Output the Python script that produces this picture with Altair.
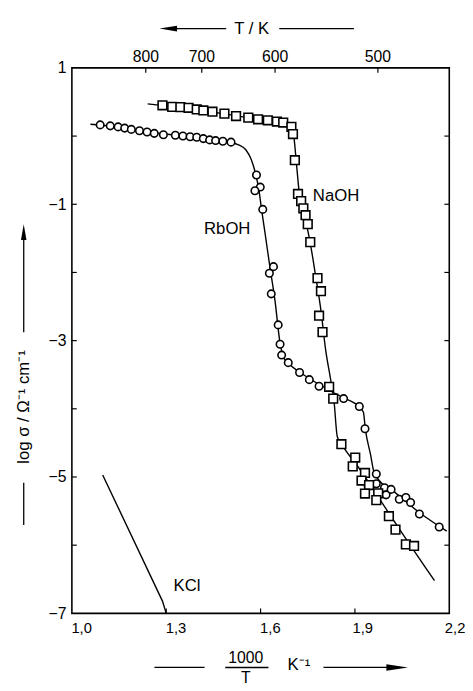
import altair as alt
import pandas as pd

# ---------------- data ----------------
rb_x = [1.090, 1.122, 1.147, 1.168, 1.189, 1.215, 1.239, 1.262, 1.291, 1.329, 1.353, 1.376,
        1.397, 1.418, 1.438, 1.457, 1.480, 1.506, 1.587, 1.599, 1.582, 1.607, 1.641, 1.628,
        1.634, 1.656, 1.662, 1.667, 1.688, 1.724, 1.755, 1.786, 1.864, 1.914, 1.932, 1.968,
        1.942, 1.968, 1.994, 2.015, 1.999, 2.041, 2.062, 2.077, 2.105, 2.168]
rb_y = [0.164, 0.150, 0.135, 0.117, 0.098, 0.078, 0.059, 0.040, 0.020, 0.012, 0.001, -0.009,
        -0.017, -0.037, -0.056, -0.066, -0.075, -0.089, -0.571, -0.748, -0.801, -1.075, -1.915, -2.012,
        -2.314, -2.769, -3.053, -3.212, -3.323, -3.467, -3.572, -3.669, -3.850, -3.965, -4.293, -4.955,
        -5.133, -5.099, -5.157, -5.182, -5.262, -5.326, -5.301, -5.373, -5.542, -5.733]

na_x = [1.288, 1.319, 1.345, 1.371, 1.397, 1.418, 1.447, 1.485, 1.522, 1.561, 1.592, 1.623,
        1.652, 1.672, 1.698, 1.703, 1.709, 1.719, 1.729, 1.736, 1.743, 1.750, 1.758, 1.781,
        1.792, 1.786, 1.797, 1.818, 1.831, 1.857, 1.901, 1.893, 1.932, 1.921, 1.945, 1.932,
        1.974, 1.968, 2.008, 2.029, 2.062, 2.088]
na_y = [0.452, 0.429, 0.424, 0.415, 0.390, 0.376, 0.357, 0.329, 0.294, 0.271, 0.246, 0.232,
        0.213, 0.199, 0.135, 0.030, -0.354, -0.849, -0.954, -1.061, -1.161, -1.291, -1.555, -2.084,
        -2.275, -2.635, -2.876, -3.677, -3.850, -4.519, -4.715, -4.844, -4.941, -5.052, -5.118, -5.243,
        -5.239, -5.340, -5.575, -5.772, -5.988, -6.012]

rb_curve_x = [1.059, 1.15, 1.25, 1.35, 1.45, 1.505, 1.53, 1.553, 1.57, 1.584, 1.595, 1.603,
              1.615, 1.63, 1.646, 1.662, 1.675, 1.69, 1.72, 1.76, 1.80, 1.86, 1.90, 1.915,
              1.927, 1.933, 1.95, 1.96, 1.975, 2.02, 2.11, 2.192]
rb_curve_y = [0.174, 0.13, 0.055, 0.005, -0.06, -0.09, -0.13, -0.2, -0.34, -0.55, -0.8, -1.07,
              -1.45, -1.93, -2.42, -3.04, -3.26, -3.34, -3.45, -3.57, -3.68, -3.83, -3.92, -3.97,
              -4.05, -4.29, -4.68, -4.92, -5.04, -5.2, -5.54, -5.795]

na_curve_x = [1.241, 1.30, 1.40, 1.50, 1.60, 1.672, 1.69, 1.700, 1.706, 1.714, 1.724, 1.745,
              1.761, 1.776, 1.792, 1.807, 1.822, 1.833, 1.844, 1.859, 1.916, 1.968, 2.041, 2.153]
na_curve_y = [0.473, 0.44, 0.385, 0.315, 0.24, 0.2, 0.16, 0.08, -0.02, -0.40, -0.88, -1.27,
              -1.65, -2.08, -2.56, -3.14, -3.55, -3.86, -4.41, -4.53, -4.89, -5.25, -5.76, -6.52]

kcl_x = [1.098, 1.288, 1.300]
kcl_y = [-4.97, -6.82, -7.0]

label_text = ["RbOH", "NaOH", "KCl"]
label_x = [1.494, 1.840, 1.366]
label_y = [-1.36, -0.88, -6.60]

bottom_tick_labels = [1.0, 1.3, 1.6, 1.9, 2.2]
bottom_minor = [1.3, 1.6, 1.9]
left_tick_labels = [1, -1, -3, -5, -7]
y_minor = [0, -1, -2, -3, -4, -5, -6]
top_T_labels = ["800", "700", "600", "500"]
top_T_pos = [1.235, 1.413, 1.646, 1.973]

# ---------------- chart ----------------
W, H = 384, 555
FONT = "Liberation Sans"
xs = alt.Scale(domain=[1.0, 2.2], nice=False, zero=False)
ys = alt.Scale(domain=[-7, 1], nice=False, zero=False)

rb_pts = pd.DataFrame({"x": rb_x, "y": rb_y})
na_pts = pd.DataFrame({"x": na_x, "y": na_y})
rb_cur = pd.DataFrame({"x": rb_curve_x, "y": rb_curve_y})
na_cur = pd.DataFrame({"x": na_curve_x, "y": na_curve_y})
kcl = pd.DataFrame({"x": kcl_x, "y": kcl_y})
labels = pd.DataFrame({"t": label_text, "x": label_x, "y": label_y})
one = pd.DataFrame({"a": [0]})

x_axis = alt.Axis(orient="bottom", values=bottom_tick_labels,
                  labelExpr="replace(format(datum.value, '.1f'), '.', ',')",
                  ticks=False, domain=False, grid=False, title=None,
                  labelAlign="left", labelPadding=7, labelFontSize=15,
                  labelOffset={"expr": "datum.value > 2.1 ? -5 : (datum.value > 1.8 ? -3 : -1)"},
                  labelFont=FONT, labelColor="black", labelFlush=False, labelOverlap=False)
y_axis = alt.Axis(orient="left", values=left_tick_labels, format="d",
                  ticks=False, domain=False, grid=False, title=None,
                  labelPadding=6, labelFontSize=16, labelFont=FONT, labelColor="black",
                  labelFlush=False, labelOverlap=False, labelBaseline="middle")

X = alt.X("x:Q", scale=xs, axis=x_axis)
Y = alt.Y("y:Q", scale=ys, axis=y_axis)

rb_line = alt.Chart(rb_cur).mark_line(color="black", strokeWidth=1.4, interpolate="monotone").encode(
    x=X, y=Y, order="x:Q")
na_line = alt.Chart(na_cur).mark_line(color="black", strokeWidth=1.4, interpolate="monotone").encode(
    x=X, y=Y, order="x:Q")
kcl_line = alt.Chart(kcl).mark_line(color="black", strokeWidth=1.4).encode(x=X, y=Y)

rb_mark = alt.Chart(rb_pts).mark_point(shape="circle", size=58, filled=False, fill="white",
                                       fillOpacity=1, stroke="black", strokeWidth=1.6, opacity=1).encode(
    x=X, y=Y)
na_mark = alt.Chart(na_pts).mark_point(shape="square", size=78, filled=False, fill="white",
                                       fillOpacity=1, stroke="black", strokeWidth=1.6, opacity=1).encode(
    x=X, y=Y)

lab = alt.Chart(labels).mark_text(font=FONT, fontSize=17, color="black").encode(
    x=X, y=Y, text="t:N")

# inward ticks
ty = pd.DataFrame({"y": y_minor})
left_t = alt.Chart(ty).mark_rule(color="black", strokeWidth=1.2).encode(
    y=Y, x=alt.value(0), x2=alt.value(5))
right_t = alt.Chart(ty).mark_rule(color="black", strokeWidth=1.2).encode(
    y=Y, x=alt.value(W), x2=alt.value(W - 5))
bottom_t = alt.Chart(pd.DataFrame({"x": bottom_minor})).mark_rule(color="black", strokeWidth=1.2).encode(
    x=X, y=alt.value(H), y2=alt.value(H - 5))
topdf = pd.DataFrame({"x": top_T_pos, "t": top_T_labels})
top_t = alt.Chart(topdf).mark_rule(color="black", strokeWidth=1.2).encode(
    x=X, y=alt.value(0), y2=alt.value(5))
top_lab = alt.Chart(topdf).mark_text(font=FONT, fontSize=16, color="black", baseline="alphabetic").encode(
    x=X, y=alt.value(-6), text="t:N")

def hrule(x1, x2, y, w=1.3):
    return alt.Chart(one).mark_rule(color="black", strokeWidth=w).encode(
        x=alt.value(x1), x2=alt.value(x2), y=alt.value(y))

def vrule(y1, y2, x, w=1.3):
    return alt.Chart(one).mark_rule(color="black", strokeWidth=w).encode(
        y=alt.value(y1), y2=alt.value(y2), x=alt.value(x))

def txt(s, x, y, size=16, angle=0):
    return alt.Chart(one).mark_text(text=s, font=FONT, fontSize=size, color="black",
                                    angle=angle, baseline="middle", align="center").encode(
        x=alt.value(x), y=alt.value(y))

def head(path, x, y, size):
    return alt.Chart(one).mark_point(shape=path, size=size, filled=True, color="black",
                                     opacity=1, strokeWidth=0).encode(x=alt.value(x), y=alt.value(y))

# top title  "<---- T / K ----"
top_title = [
    head("M-1,0L1,-0.33L1,0.33Z", 98, -40, 324),
    hrule(104, 157, -40),
    txt("T / K", 183, -40, 17),
    hrule(211, 287, -40),
]
# bottom title  "---- 1000/T K-1 ---->"
bottom_title = [
    hrule(84, 135, 610),
    txt("1000", 177, 601, 16),
    hrule(156, 200, 610, 1.5),
    txt("T", 177, 621, 16),
    txt("K⁻¹", 231, 608, 17),
    hrule(256, 326, 610),
    head("M1,0L-1,-0.3L-1,0.3Z", 331, 610, 484),
]
# left title
LX = -49
left_title = [
    head("M0,-1L-0.35,1L0.35,1Z", LX, 167, 256),
    vrule(170, 269, LX),
    txt("log σ / Ω⁻¹ cm⁻¹", LX, 345, 17, 270),
    vrule(422, 465, LX),
]

chart = alt.layer(
    rb_line, na_line, kcl_line, rb_mark, na_mark, lab,
    left_t, right_t, bottom_t, top_t, top_lab,
    *top_title, *bottom_title, *left_title,
).properties(
    width=W, height=H,
    autosize=alt.AutoSizeParams(type="none"),
    padding={"left": 65, "top": 55, "right": 16, "bottom": 70},
    background="white",
).configure_view(stroke="black", strokeWidth=1.6)

chart.save("out.html", embed_options={"renderer": "svg", "actions": False})
